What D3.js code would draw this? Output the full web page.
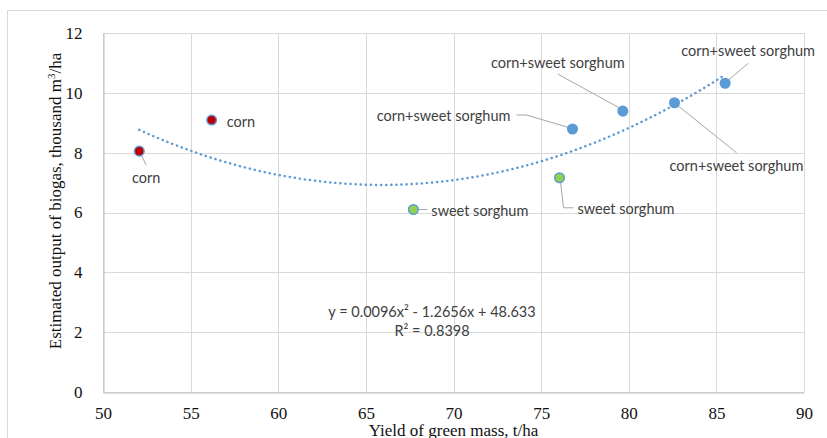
<!DOCTYPE html>
<html>
<head>
<meta charset="utf-8">
<script src="https://cdn.jsdelivr.net/npm/d3@7/dist/d3.min.js"></script>
<style>
  body { margin: 0; background: #fff; }
  svg { display: block; }
</style>
</head>
<body>
<svg width="827" height="438"></svg>
<script>
// data
const crops = ["corn", "corn", "sweet sorghum", "sweet sorghum",
  "corn+sweet sorghum", "corn+sweet sorghum", "corn+sweet sorghum", "corn+sweet sorghum"];
const greenMass = [52.07, 56.2, 67.71, 76.05, 76.79, 79.66, 82.61, 85.5];
const biogas = [8.05, 9.09, 6.10, 7.16, 8.79, 9.39, 9.67, 10.32];
const xTicks = [50, 55, 60, 65, 70, 75, 80, 85, 90];
const yTicks = [0, 2, 4, 6, 8, 10, 12];
const trendCoef = [0.0096, -1.2656, 48.633];
const trendLabel = ["y = 0.0096x² - 1.2656x + 48.633", "R² = 0.8398"];

// where each data label sits relative to its point (pixels)
const labelPos = [
  { dx: 7, dy: 27, anchor: "middle", leader: [[0, 0], [7, 14]] },
  { dx: 15, dy: 2, anchor: "start", leader: null },
  { dx: 18, dy: 1, anchor: "start", leader: [[5, 0], [14, 0]] },
  { dx: 18, dy: 31, anchor: "start", leader: [[1, 4], [4, 30], [14, 30]] },
  { dx: -62, dy: -13, anchor: "end", leader: [[-56, -14], [-46, -14], [-2, -1]] },
  { dx: -65, dy: -48, anchor: "middle", leader: [[-65, -37], [-3, -3]] },
  { dx: 62, dy: 63, anchor: "middle", leader: [[62, 50], [1, 1]] },
  { dx: 23, dy: -32, anchor: "middle", leader: [[23, -20], [1, -1]] }
];

const fills = { "corn": "#C00000", "sweet sorghum": "#92D050", "corn+sweet sorghum": "#5B9BD5" };

const svg = d3.select("svg"),
  margin = { top: 33, right: 23, bottom: 46, left: 103 },
  width = +svg.attr("width") - margin.left - margin.right,
  height = +svg.attr("height") - margin.top - margin.bottom;

// outer chart frame
svg.append("rect")
  .attr("x", 7.5).attr("y", 10.5)
  .attr("width", 840).attr("height", 450)
  .attr("fill", "none").attr("stroke", "#D9D9D9");

const x = d3.scaleLinear().domain([50, 90]).range([0, width]);
const y = d3.scaleLinear().domain([0, 12]).range([height, 0]);

const g = svg.append("g").attr("transform", `translate(${margin.left},${margin.top})`);

// gridlines
g.append("g").selectAll("line").data(xTicks).enter().append("line")
  .attr("x1", d => Math.round(x(d)) + 0.5).attr("x2", d => Math.round(x(d)) + 0.5)
  .attr("y1", 0).attr("y2", height)
  .attr("stroke", "#D9D9D9");
g.append("g").selectAll("line").data(yTicks).enter().append("line")
  .attr("y1", d => Math.round(y(d)) + 0.5).attr("y2", d => Math.round(y(d)) + 0.5)
  .attr("x1", 0).attr("x2", width)
  .attr("stroke", "#D9D9D9");

// axes
const xAxis = g.append("g")
  .attr("transform", `translate(0,${Math.round(height) + 0.5})`)
  .call(d3.axisBottom(x).tickValues(xTicks).tickSize(0).tickPadding(14));
const yAxis = g.append("g")
  .attr("transform", "translate(0.5,0)")
  .call(d3.axisLeft(y).tickValues(yTicks).tickSize(0).tickPadding(21));
[xAxis, yAxis].forEach(a => {
  a.select(".domain").attr("stroke", "#BFBFBF");
  a.selectAll("text")
    .attr("font-family", "'Liberation Serif', 'Times New Roman', serif")
    .attr("font-size", 17).attr("fill", "#111");
});

// axis titles
svg.append("text")
  .attr("x", margin.left + width / 2).attr("y", 436)
  .attr("text-anchor", "middle")
  .attr("font-family", "'Liberation Serif', 'Times New Roman', serif")
  .attr("font-size", 17).attr("fill", "#111")
  .text("Yield of green mass, t/ha");

const yTitle = svg.append("text")
  .attr("transform", "translate(61,201) rotate(-90)")
  .attr("text-anchor", "middle")
  .attr("font-family", "'Liberation Serif', 'Times New Roman', serif")
  .attr("font-size", 17).attr("fill", "#111");
yTitle.append("tspan").text("Estimated output of biogas, thousand m");
yTitle.append("tspan").attr("dy", -6).attr("font-size", 11).text("3");
yTitle.append("tspan").attr("dy", 6).text("/ha");

// polynomial trendline
const trendX = d3.range(d3.min(greenMass), d3.max(greenMass), 0.25).concat([d3.max(greenMass)]);
const trend = d => trendCoef[0] * d * d + trendCoef[1] * d + trendCoef[2];
g.append("path")
  .datum(trendX)
  .attr("fill", "none")
  .attr("stroke", "#5B9BD5")
  .attr("stroke-width", 2.5)
  .attr("stroke-linecap", "round")
  .attr("stroke-dasharray", "0.1 5")
  .attr("d", d3.line().x(d => x(d)).y(d => y(trend(d))));

// points
const pts = greenMass.map((v, i) => ({ crop: crops[i], gx: v, by: biogas[i], lp: labelPos[i] }));

// leader lines
g.append("g").selectAll("polyline")
  .data(pts.filter(d => d.lp.leader))
  .enter().append("polyline")
  .attr("fill", "none")
  .attr("stroke", "#A6A6A6")
  .attr("stroke-width", 1)
  .attr("points", d => d.lp.leader.map(p => [x(d.gx) + p[0], y(d.by) + p[1]].join(",")).join(" "));

g.append("g").selectAll("circle")
  .data(pts)
  .enter().append("circle")
  .attr("cx", d => x(d.gx))
  .attr("cy", d => y(d.by))
  .attr("r", 4.8)
  .attr("fill", d => fills[d.crop])
  .attr("stroke", "#5B9BD5")
  .attr("stroke-width", 1.5);

// data labels
g.append("g").selectAll("text")
  .data(pts)
  .enter().append("text")
  .attr("x", d => x(d.gx) + d.lp.dx)
  .attr("y", d => y(d.by) + d.lp.dy)
  .attr("dy", "0.35em")
  .attr("text-anchor", d => d.lp.anchor)
  .attr("font-family", "Lato, 'Open Sans', sans-serif")
  .attr("font-size", 14.5)
  .attr("fill", "#404040")
  .text(d => d.crop);

// trendline equation
svg.append("g").selectAll("text")
  .data(trendLabel)
  .enter().append("text")
  .attr("x", 432)
  .attr("y", (d, i) => 312 + i * 18.6)
  .attr("dy", "0.35em")
  .attr("text-anchor", "middle")
  .attr("font-family", "Lato, 'Open Sans', sans-serif")
  .attr("font-size", 14.5)
  .attr("fill", "#404040")
  .text(d => d);
</script>
</body>
</html>
